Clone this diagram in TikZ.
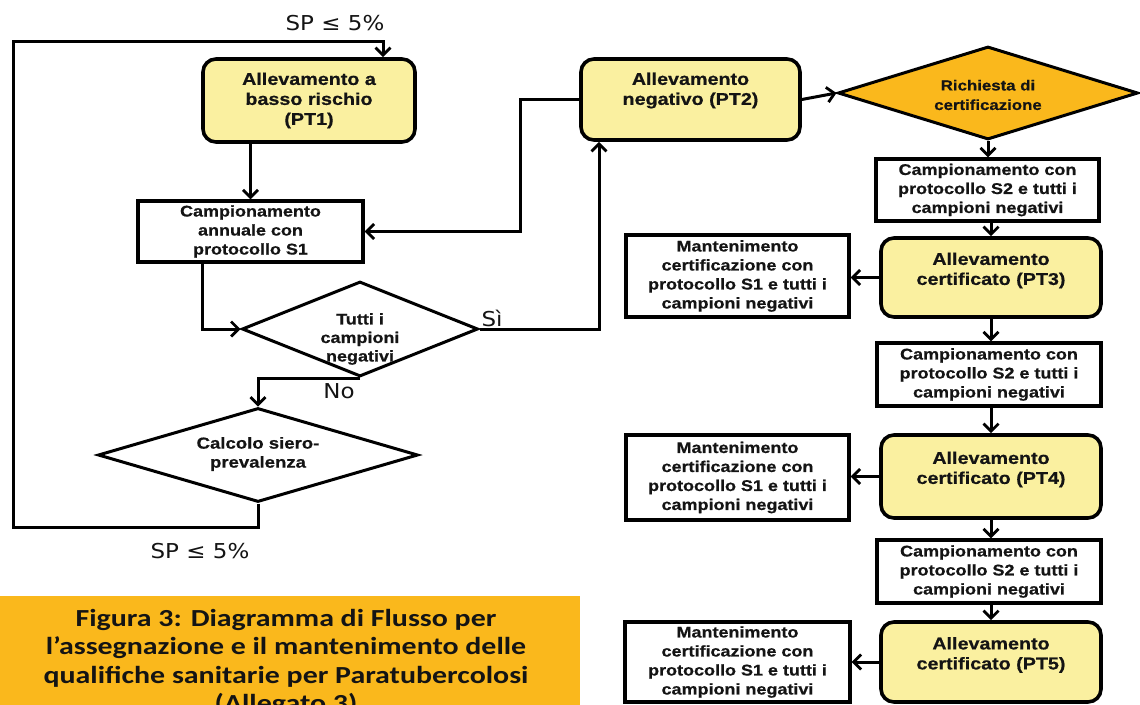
\documentclass[tikz,border=0pt]{standalone}
\usepackage{fontspec}
\setmainfont{Liberation Sans}[FakeStretch=1.16,BoldFeatures={FakeBold=0.6}]
\newfontfamily\dvfont{DejaVu Sans}[FakeStretch=1.12]
\newfontfamily\capfont{Carlito}[FakeStretch=1.22]
\usetikzlibrary{shapes.geometric,arrows.meta}
\definecolor{ylw}{RGB}{250,240,160}
\definecolor{gold}{RGB}{250,184,28}
\definecolor{txt}{RGB}{20,20,20}
\begin{document}
\begin{tikzpicture}[x=1pt,y=-1pt,
  conn/.style={line width=3pt,-{Straight Barb[length=7.5pt,width=15pt,line width=2.8pt]}},
  ybox/.style={draw, line width=3.6pt, rounded corners=13pt, fill=ylw, inner sep=0pt},
  ytext/.style={font=\bfseries\fontsize{17}{20}\selectfont, align=center, text=txt},
  wbox/.style={draw, line width=3.4pt, fill=white, inner sep=0pt, align=center, text=txt, font=\bfseries\fontsize{15.5}{19}\selectfont},
  dshape/.style={draw, shape=diamond, line width=3pt, fill=white, inner sep=0pt},
  dtext/.style={font=\bfseries\fontsize{15.5}{18.5}\selectfont, align=center, text=txt},
  lbl/.style={font=\dvfont\fontsize{20.5}{24}\selectfont, text=txt},
  captext/.style={font=\capfont\bfseries\fontsize{24.5}{28.3}\selectfont, align=center, text=txt}
]
\useasboundingbox (0,0) rectangle (1140,704);
\clip (0,0) rectangle (1140,704);

% caption
\fill[gold] (0,596) rectangle (580,720);
\node[captext] (cap) at (286,662.5) {Figura 3: Diagramma di Flusso per\\l’assegnazione e il mantenimento delle\\qualifiche sanitarie per Paratubercolosi\\(Allegato 3)};

% left part
\node[ybox, minimum width=212pt, minimum height=83pt,
      label={[ytext]center:Allevamento a\\basso rischio\\(PT1)}] (pt1) at (309,100.5) {};
\node[wbox, minimum width=225pt, minimum height=61pt] (s1) at (250.5,231.5) {Campionamento\\annuale con\\protocollo S1};
\node[dshape, minimum width=236pt, minimum height=95pt] (d1) at (360,329) {};
\node[dtext] (d1t) at (360,339) {Tutti i\\campioni\\negativi};
\node[dshape, minimum width=320pt, minimum height=94pt] (d2) at (258,455) {};
\node[dtext, font=\bfseries\fontsize{16}{19}\selectfont] (d2t) at (258,454) {Calcolo siero-\\prevalenza};

\node[ybox, minimum width=219pt, minimum height=81pt,
      label={[ytext,yshift=9pt]center:Allevamento\\negativo (PT2)}] (pt2) at (690.5,99.5) {};
\node[draw, shape=diamond, line width=3pt, fill=gold, inner sep=0pt,
      minimum width=300pt, minimum height=93pt,
      label={[dtext,font=\bfseries\fontsize{14.5}{19.5}\selectfont,yshift=-2pt]center:Richiesta di\\certificazione}] (rich) at (988,93) {};

% right column
\node[wbox, minimum width=223pt, minimum height=62pt] (s2a) at (987.5,190) {Campionamento con\\protocollo S2 e tutti i\\campioni negativi};
\node[ybox, minimum width=220pt, minimum height=79pt,
      label={[ytext,yshift=7pt]center:Allevamento\\certificato (PT3)}] (pt3) at (991,277.5) {};
\node[wbox, minimum width=223pt, minimum height=82pt] (m1) at (737.5,276) {Mantenimento\\certificazione con\\protocollo S1 e tutti i\\campioni negativi};
\node[wbox, minimum width=224pt, minimum height=63pt] (s2b) at (989,374.5) {Campionamento con\\protocollo S2 e tutti i\\campioni negativi};
\node[ybox, minimum width=220pt, minimum height=83pt,
      label={[ytext,yshift=7pt]center:Allevamento\\certificato (PT4)}] (pt4) at (991,476.5) {};
\node[wbox, minimum width=223pt, minimum height=85pt] (m2) at (737.5,477.5) {Mantenimento\\certificazione con\\protocollo S1 e tutti i\\campioni negativi};
\node[wbox, minimum width=224pt, minimum height=63pt] (s2c) at (989,571.5) {Campionamento con\\protocollo S2 e tutti i\\campioni negativi};
\node[ybox, minimum width=220pt, minimum height=80pt,
      label={[ytext,yshift=7pt]center:Allevamento\\certificato (PT5)}] (pt5) at (991,662) {};
\node[wbox, minimum width=225pt, minimum height=80pt] (m3) at (737.5,662) {Mantenimento\\certificazione con\\protocollo S1 e tutti i\\campioni negativi};

% labels
\node[lbl] (sp1) at (335,23) {SP ≤ 5\%};
\node[lbl] (sp2) at (200,551) {SP ≤ 5\%};
\node[lbl] (si) at (492,318) {Sì};
\node[lbl] (no) at (339,391) {No};

% coordinates
\coordinate (lb) at (13,527);
\coordinate (lt) at (13,41);
\coordinate (jn) at (520,99.5);

% connectors
\draw[conn] (d2.south) |- (lb) -- (lt) -| ([xshift=74pt]pt1.north);
\draw[conn] (s1.north |- pt1.south) -- (s1.north);
\draw[conn] ([xshift=-48.5pt]s1.south) |- (d1.west);
\draw[conn] (d1.east) -| ([xshift=-91.5pt]pt2.south);
\draw[conn] (pt2.west) -- (jn) |- (s1.east);
\draw[conn] (d1.south) -| (d2.north);
\draw[conn] (pt2.east) -- (rich.west);
\draw[conn] (rich.south) -- (rich.south |- s2a.north);
\draw[conn] (pt3.north |- s2a.south) -- (pt3.north);
\draw[conn] (pt3.west) -- (m1.east |- pt3.west);
\draw[conn] (pt3.south) -- (pt3.south |- s2b.north);
\draw[conn] (pt4.north |- s2b.south) -- (pt4.north);
\draw[conn] (pt4.west) -- (m2.east |- pt4.west);
\draw[conn] (pt4.south) -- (pt4.south |- s2c.north);
\draw[conn] (pt5.north |- s2c.south) -- (pt5.north);
\draw[conn] (pt5.west) -- (m3.east |- pt5.west);
\end{tikzpicture}
\end{document}
